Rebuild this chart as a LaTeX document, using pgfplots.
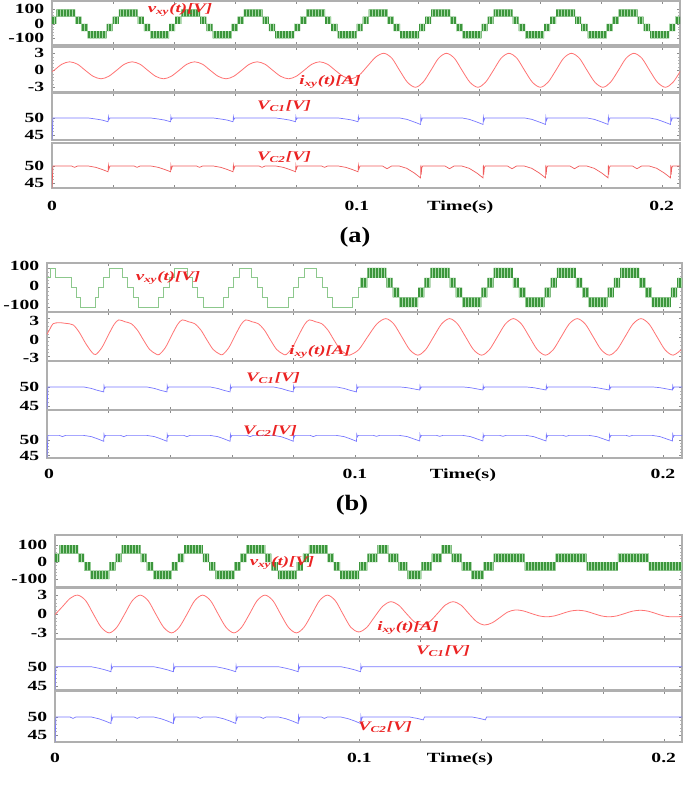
\documentclass[border=0pt]{standalone}
\usepackage{fontspec}
\setmainfont{Liberation Serif}
\usepackage{pgfplots}
\usepackage{pgfplotstable}
\pgfplotsset{compat=1.18}
\usetikzlibrary{patterns}

\definecolor{axgray}{RGB}{175,175,175}
\definecolor{vfill}{RGB}{60,150,60}
\definecolor{vline}{RGB}{165,215,165}
\definecolor{vthin}{RGB}{140,200,140}
\definecolor{icol}{RGB}{255,115,115}
\definecolor{bcol}{RGB}{120,120,255}
\definecolor{rcol}{RGB}{240,90,90}
\definecolor{lblred}{RGB}{235,35,35}

\newcommand{\ticfont}{\fontsize{14}{14}\selectfont\bfseries}
\newcommand{\lblfont}{\fontsize{13}{13}\selectfont\bfseries\itshape}

% PWM band of v_xy: value held from t on, band from lo to hi
\pgfplotstableread{
t lo hi
0 0 50
0.0014 50 100
0.0076 0 50
0.0096 -50 0
0.0117 -100 -50
0.0179 -50 0
0.0199 0 50
0.0219 50 100
0.0281 0 50
0.0301 -50 0
0.0322 -100 -50
0.0384 -50 0
0.0404 0 50
0.0424 50 100
0.0486 0 50
0.0506 -50 0
0.0527 -100 -50
0.0589 -50 0
0.0609 0 50
0.0629 50 100
0.0691 0 50
0.0711 -50 0
0.0732 -100 -50
0.0794 -50 0
0.0814 0 50
0.0834 50 100
0.0896 0 50
0.0916 -50 0
0.0937 -100 -50
0.0999 -50 0
0.1019 0 50
0.1039 50 100
0.1101 0 50
0.1121 -50 0
0.1142 -100 -50
0.1204 -50 0
0.1224 0 50
0.1244 50 100
0.1306 0 50
0.1326 -50 0
0.1347 -100 -50
0.1409 -50 0
0.1429 0 50
0.1449 50 100
0.1511 0 50
0.1531 -50 0
0.1552 -100 -50
0.1614 -50 0
0.1634 0 50
0.1654 50 100
0.1716 0 50
0.1736 -50 0
0.1757 -100 -50
0.1819 -50 0
0.1839 0 50
0.1859 50 100
0.1921 0 50
0.1941 -50 0
0.1962 -100 -50
0.2024 -50 0
0.2044 0 50
0.206 0 50
}\vxyA

\pgfplotstableread{
t v
0 50
0.001 100
0.0026 50
0.0079 0
0.0095 -50
0.0109 -100
0.0158 -50
0.0168 0
0.0184 50
0.0204 100
0.0244 50
0.0262 0
0.0279 -50
0.0296 -100
0.0362 -50
0.0379 0
0.0396 50
0.0414 100
0.0454 50
0.0472 0
0.0489 -50
0.0506 -100
0.0572 -50
0.0589 0
0.0606 50
0.0624 100
0.0664 50
0.0682 0
0.0699 -50
0.0716 -100
0.0782 -50
0.0799 0
0.0816 50
0.0834 100
0.0874 50
0.0892 0
0.0909 -50
0.0926 -100
0.0992 -50
0.1009 0
0.1016 0
}\vxyBthin

\pgfplotstableread{
t lo hi
0.1016 0 50
0.1039 50 100
0.1101 0 50
0.1121 -50 0
0.1142 -100 -50
0.1204 -50 0
0.1224 0 50
0.1244 50 100
0.1306 0 50
0.1326 -50 0
0.1347 -100 -50
0.1409 -50 0
0.1429 0 50
0.1449 50 100
0.1511 0 50
0.1531 -50 0
0.1552 -100 -50
0.1614 -50 0
0.1634 0 50
0.1654 50 100
0.1716 0 50
0.1736 -50 0
0.1757 -100 -50
0.1819 -50 0
0.1839 0 50
0.1859 50 100
0.1921 0 50
0.1941 -50 0
0.1962 -100 -50
0.2024 -50 0
0.2044 0 50
0.206 0 50
}\vxyB

\pgfplotstableread{
t lo hi
0 0 50
0.0014 50 100
0.0076 0 50
0.0096 -50 0
0.0117 -100 -50
0.0179 -50 0
0.0199 0 50
0.0219 50 100
0.0281 0 50
0.0301 -50 0
0.0322 -100 -50
0.0384 -50 0
0.0404 0 50
0.0424 50 100
0.0486 0 50
0.0506 -50 0
0.0527 -100 -50
0.0589 -50 0
0.0609 0 50
0.0629 50 100
0.0691 0 50
0.0711 -50 0
0.0732 -100 -50
0.0794 -50 0
0.0814 0 50
0.0834 50 100
0.0896 0 50
0.0916 -50 0
0.0937 -100 -50
0.0999 -50 0
0.1026 0 50
0.1059 50 100
0.1095 0 50
0.1128 -50 0
0.1158 -100 -50
0.1204 -50 0
0.1237 0 50
0.127 50 100
0.1303 0 50
0.1336 -50 0
0.1368 -100 -50
0.1408 -50 0
0.1441 0 50
0.1543 -50 0
0.1645 0 50
0.1747 -50 0
0.1849 0 50
0.1951 -50 0
0.206 -50 0
}\vxyC

\pgfplotsset{
  sub/.style={
    scale only axis, anchor=north west,
    xmin=0, xmax=0.206, clip mode=individual,
    axis line style={draw=axgray, line width=1.2pt},
    major tick style={draw=black!45, line width=0.4pt},
    minor tick style={draw=black!30, line width=0.3pt},
    major tick length=3pt, minor tick length=2pt,
    xtick={0,0.02,0.04,0.06,0.08,0.1,0.12,0.14,0.16,0.18,0.2},
    xticklabels={},
    minor y tick num=4,
    yticklabel style={font=\ticfont, xscale=1.4, xshift=-2pt},
    /pgf/number format/assume math mode=true,
  },
  bottom/.style={
    xticklabels={0,,,,,0.1,,,,,0.2},
    xticklabel style={font=\ticfont, xscale=1.4, anchor=base, yshift=#1},
  },
  bandlo/.style={const plot, draw=none, forget plot},
  band/.style={const plot, draw=none, fill=vfill,
    postaction={pattern=vertical lines, pattern color=vline}},
}
\tikzset{
  lbl/.style={font=\lblfont, text=lblred, xscale=1.45, inner sep=0pt},
  tlbl/.style={font=\ticfont, xscale=1.45, anchor=base},
}

\begin{document}
\begin{tikzpicture}
\path[use as bounding box] (0,0) rectangle (685pt,-806pt);

%%%%%%%%%%%%%%%%%%%% (a)
\begin{axis}[sub, stack plots=y, at={(52pt,-1pt)}, width=628pt, height=44pt,
  ymin=-146, ymax=157, ytick={-100,0,100}]
\addplot[bandlo] table[x=t,y=lo] {\vxyA};
\addplot[band] table[x=t,y expr=\thisrow{hi}-\thisrow{lo}] {\vxyA} \closedcycle;
\end{axis}
\node[lbl] at (180pt,-10pt) {v\textsubscript{xy}(t)[V]};

\begin{axis}[sub, at={(52pt,-47pt)}, width=628pt, height=45pt,
  ymin=-3.83, ymax=4.11, ytick={-3,0,3}]
\addplot[icol, line width=0.8pt, smooth] coordinates {
(0,-0.2) (0.0007,0) (0.0032,1.06) (0.0058,1.5) (0.0084,1.06) (0.0109,0) (0.0135,-1.06) (0.0161,-1.5) (0.0186,-1.06)
(0.0212,0) (0.0237,1.06) (0.0263,1.5) (0.0289,1.06) (0.0314,0) (0.034,-1.06) (0.0366,-1.5) (0.0391,-1.06)
(0.0417,0) (0.0442,1.06) (0.0468,1.5) (0.0494,1.06) (0.0519,0) (0.0545,-1.06) (0.0571,-1.5) (0.0596,-1.06)
(0.0622,0) (0.0647,1.06) (0.0673,1.5) (0.0699,1.06) (0.0724,0) (0.075,-1.06) (0.0776,-1.5) (0.0801,-1.06)
(0.0827,0) (0.0852,1.06) (0.0878,1.5) (0.0904,1.06) (0.0929,0) (0.0955,-1.06) (0.0981,-1.5)
(0.1008,-0.84) (0.1035,0.75) (0.1062,2.34) (0.1089,3)
(0.1115,2.12) (0.114,0) (0.1166,-2.12) (0.1192,-3) (0.1217,-2.12) (0.1243,0) (0.1268,2.12) (0.1294,3)
(0.132,2.12) (0.1345,0) (0.1371,-2.12) (0.1397,-3) (0.1422,-2.12) (0.1448,0) (0.1473,2.12) (0.1499,3)
(0.1525,2.12) (0.155,0) (0.1576,-2.12) (0.1602,-3) (0.1627,-2.12) (0.1653,0) (0.1678,2.12) (0.1704,3)
(0.173,2.12) (0.1755,0) (0.1781,-2.12) (0.1807,-3) (0.1832,-2.12) (0.1858,0) (0.1883,2.12) (0.1909,3)
(0.1935,2.12) (0.196,0) (0.1986,-2.12) (0.2012,-3) (0.2037,-2.12) (0.2063,0)
};
\end{axis}
\node[lbl] at (330pt,-82pt) {i\textsubscript{xy}(t)[A]};

\begin{axis}[sub, at={(52pt,-93pt)}, width=628pt, height=47pt,
  ymin=43.53, ymax=57.35, ytick={45,50}]
\addplot[bcol, line width=0.7pt] coordinates {
(0,43.6) (0.0003,50)
(0.0119,50) (0.0144,49.7) (0.0164,49.4) (0.0184,48.9) (0.0185,50.4) (0.0187,49.6) (0.019,50)
(0.0324,50) (0.0349,49.7) (0.0369,49.4) (0.0389,48.9) (0.039,50.4) (0.0392,49.6) (0.0395,50)
(0.0529,50) (0.0554,49.7) (0.0574,49.4) (0.0594,48.9) (0.0595,50.4) (0.0597,49.6) (0.06,50)
(0.0734,50) (0.0759,49.7) (0.0779,49.4) (0.0799,48.9) (0.08,50.4) (0.0802,49.6) (0.0805,50)
(0.0939,50) (0.0964,49.7) (0.0984,49.4) (0.1004,48.9) (0.1005,50.4) (0.1007,49.6) (0.101,50)
(0.1141,50) (0.1164,49.6) (0.1189,48.8) (0.1209,48.1) (0.121,50.3) (0.1212,49.3) (0.1215,50)
(0.1346,50) (0.1369,49.6) (0.1394,48.8) (0.1414,48.1) (0.1415,50.3) (0.1417,49.3) (0.142,50)
(0.1551,50) (0.1574,49.6) (0.1599,48.8) (0.1619,48.1) (0.162,50.3) (0.1622,49.3) (0.1625,50)
(0.1756,50) (0.1779,49.6) (0.1804,48.8) (0.1824,48.1) (0.1825,50.3) (0.1827,49.3) (0.183,50)
(0.1961,50) (0.1984,49.6) (0.2009,48.8) (0.2029,48.1) (0.203,50.3) (0.2032,49.3) (0.2035,50) (0.206,50)
};
\end{axis}
\node[lbl] at (284pt,-106pt) {V\textsubscript{C1}[V]};

\begin{axis}[sub, bottom=-22pt, at={(52pt,-143pt)}, width=628pt, height=45pt,
  ymin=43.53, ymax=56.76, ytick={45,50}]
\addplot[rcol, line width=0.7pt] coordinates {
(0,43.5) (0.0003,50) (0.0064,50) (0.0074,49.6) (0.0084,50)
(0.0119,50) (0.0144,49.6) (0.0164,49) (0.0184,48.3) (0.0185,50.2) (0.0187,49.2) (0.019,50) (0.0269,50) (0.0279,49.6) (0.0289,50)
(0.0324,50) (0.0349,49.6) (0.0369,49) (0.0389,48.3) (0.039,50.2) (0.0392,49.2) (0.0395,50) (0.0474,50) (0.0484,49.6) (0.0494,50)
(0.0529,50) (0.0554,49.6) (0.0574,49) (0.0594,48.3) (0.0595,50.2) (0.0597,49.2) (0.06,50) (0.0679,50) (0.0689,49.6) (0.0699,50)
(0.0734,50) (0.0759,49.6) (0.0779,49) (0.0799,48.3) (0.08,50.2) (0.0802,49.2) (0.0805,50) (0.0884,50) (0.0894,49.6) (0.0904,50)
(0.0939,50) (0.0964,49.6) (0.0984,49) (0.1004,48.3) (0.1005,50.2) (0.1007,49.2) (0.101,50) (0.1084,50) (0.1099,49.2) (0.1114,50)
(0.1139,50) (0.1164,49.3) (0.1189,47.9) (0.1209,46.5) (0.121,50.3) (0.1211,47.5) (0.1213,49.5) (0.1216,50) (0.1289,50) (0.1304,49.2) (0.1319,50)
(0.1344,50) (0.1369,49.3) (0.1394,47.9) (0.1414,46.5) (0.1415,50.3) (0.1416,47.5) (0.1418,49.5) (0.1421,50) (0.1494,50) (0.1509,49.2) (0.1524,50)
(0.1549,50) (0.1574,49.3) (0.1599,47.9) (0.1619,46.5) (0.162,50.3) (0.1621,47.5) (0.1623,49.5) (0.1626,50) (0.1699,50) (0.1714,49.2) (0.1729,50)
(0.1754,50) (0.1779,49.3) (0.1804,47.9) (0.1824,46.5) (0.1825,50.3) (0.1826,47.5) (0.1828,49.5) (0.1831,50) (0.1904,50) (0.1919,49.2) (0.1934,50)
(0.1959,50) (0.1984,49.3) (0.2009,47.9) (0.2029,46.5) (0.203,50.3) (0.2031,47.5) (0.2033,49.5) (0.2036,50) (0.206,50)
};
\node[tlbl, yshift=-22pt] at (axis description cs:0.65,0) {Time(s)};
\end{axis}
\node[lbl] at (284pt,-157pt) {V\textsubscript{C2}[V]};
\node[font=\fontsize{22}{22}\selectfont\bfseries, xscale=1.2] at (355pt,-237pt) {(a)};

%%%%%%%%%%%%%%%%%%%% (b)
\begin{axis}[sub, stack plots=y, at={(47pt,-263pt)}, width=635pt, height=49pt,
  ymin=-125.6, ymax=125.6, ytick={-100,0,100},
  yticklabel style={yshift=2pt}]
\addplot[bandlo] table[x=t,y=lo] {\vxyB};
\addplot[band] table[x=t,y expr=\thisrow{hi}-\thisrow{lo}] {\vxyB} \closedcycle;
\end{axis}
\begin{axis}[sub, hide axis, at={(47pt,-263pt)}, width=635pt, height=49pt,
  ymin=-125.6, ymax=125.6]
\addplot[const plot, vthin, line width=0.8pt] table[x=t,y=v] {\vxyBthin};
\end{axis}
\node[lbl] at (168pt,-278pt) {v\textsubscript{xy}(t)[V]};

\begin{axis}[sub, at={(47pt,-312pt)}, width=635pt, height=49pt,
  ymin=-3.73, ymax=4.05, ytick={-3,0,3},
  yticklabel style={yshift=-2pt}]
\addplot[icol, line width=0.8pt, smooth] coordinates {
(0,0.5) (0.001,1.4) (0.002,2.2) (0.004,2.35) (0.006,2.25) (0.0085,2.0) (0.0105,0.8) (0.0125,-0.9) (0.0145,-2.3)
(0.0158,-2.7) (0.0178,-1.6) (0.0198,0.3) (0.0218,2.1) (0.0233,2.8) (0.0253,2.5) (0.0273,2.2) (0.0293,1.2) (0.0313,-0.4) (0.0333,-1.9) (0.0353,-2.6)
(0.0364,-2.7) (0.0384,-1.6) (0.0404,0.3) (0.0424,2.1) (0.0439,2.8) (0.0459,2.5) (0.0479,2.2) (0.0499,1.2) (0.0519,-0.4) (0.0539,-1.9) (0.0559,-2.6)
(0.057,-2.7) (0.059,-1.6) (0.061,0.3) (0.063,2.1) (0.0645,2.8) (0.0665,2.5) (0.0685,2.2) (0.0705,1.2) (0.0725,-0.4) (0.0745,-1.9) (0.0765,-2.6)
(0.0776,-2.7) (0.0796,-1.6) (0.0816,0.3) (0.0836,2.1) (0.0851,2.8) (0.0871,2.5) (0.0891,2.2) (0.0911,1.2) (0.0931,-0.4) (0.0951,-1.9) (0.0971,-2.6)
(0.0982,-2.8) (0.1011,-1.95) (0.104,0.1) (0.107,2.15) (0.1099,3.0)
(0.1125,2.15) (0.1151,0.1) (0.1177,-1.95) (0.1203,-2.8) (0.1228,-1.95) (0.1254,0.1) (0.128,2.15) (0.1306,3.0)
(0.1332,2.15) (0.1358,0.1) (0.1384,-1.95) (0.141,-2.8) (0.1435,-1.95) (0.1461,0.1) (0.1487,2.15) (0.1513,3.0)
(0.1539,2.15) (0.1565,0.1) (0.1591,-1.95) (0.1617,-2.8) (0.1642,-1.95) (0.1668,0.1) (0.1694,2.15) (0.172,3.0)
(0.1746,2.15) (0.1772,0.1) (0.1798,-1.95) (0.1824,-2.8) (0.1849,-1.95) (0.1875,0.1) (0.1901,2.15) (0.1927,3.0)
(0.1953,2.15) (0.1979,0.1) (0.2005,-1.95) (0.2031,-2.8) (0.2057,-1.95)
};
\end{axis}
\node[lbl] at (320pt,-352pt) {i\textsubscript{xy}(t)[A]};

\begin{axis}[sub, at={(47pt,-361pt)}, width=635pt, height=49pt,
  ymin=43.95, ymax=56.8, ytick={45,50}]
\addplot[bcol, line width=0.7pt] coordinates {
(0,44) (0.0003,50)
(0.0119,50) (0.0144,49.6) (0.0164,49.1) (0.0184,48.7) (0.0185,50.3) (0.0187,49.6) (0.019,50)
(0.0324,50) (0.0349,49.6) (0.0369,49.1) (0.0389,48.7) (0.039,50.3) (0.0392,49.6) (0.0395,50)
(0.0529,50) (0.0554,49.6) (0.0574,49.1) (0.0594,48.7) (0.0595,50.3) (0.0597,49.6) (0.06,50)
(0.0734,50) (0.0759,49.6) (0.0779,49.1) (0.0799,48.7) (0.08,50.3) (0.0802,49.6) (0.0805,50)
(0.0939,50) (0.0964,49.6) (0.0984,49.1) (0.1004,48.7) (0.1005,50.3) (0.1007,49.6) (0.101,50)
(0.1144,50) (0.1169,49.8) (0.1189,49.5) (0.1209,49.2) (0.121,50.3) (0.1212,49.6) (0.1215,50)
(0.1349,50) (0.1374,49.8) (0.1394,49.5) (0.1414,49.2) (0.1415,50.3) (0.1417,49.6) (0.142,50)
(0.1554,50) (0.1579,49.8) (0.1599,49.5) (0.1619,49.2) (0.162,50.3) (0.1622,49.6) (0.1625,50)
(0.1759,50) (0.1784,49.8) (0.1804,49.5) (0.1824,49.2) (0.1825,50.3) (0.1827,49.6) (0.183,50)
(0.1964,50) (0.1989,49.8) (0.2009,49.5) (0.2029,49.2) (0.203,50.3) (0.2032,49.6) (0.2035,50) (0.206,50)
};
\end{axis}
\node[lbl] at (273pt,-378pt) {V\textsubscript{C1}[V]};

\begin{axis}[sub, at={(47pt,-410pt)}, width=635pt, height=48pt,
  ymin=44.2, ymax=59.7, ytick={45,50}]
\addplot[bcol, line width=0.7pt] coordinates {
(0,44.3) (0.0003,51.5) (0.004,51.5) (0.005,51.1) (0.006,51.5)
(0.0119,51.5) (0.0144,51.1) (0.0164,50.4) (0.0184,49.6) (0.0185,51.8) (0.0187,51) (0.019,51.5) (0.0239,51.5) (0.0249,51.1) (0.0259,51.5)
(0.0324,51.5) (0.0349,51.1) (0.0369,50.4) (0.0389,49.6) (0.039,51.8) (0.0392,51) (0.0395,51.5) (0.0444,51.5) (0.0454,51.1) (0.0464,51.5)
(0.0529,51.5) (0.0554,51.1) (0.0574,50.4) (0.0594,49.6) (0.0595,51.8) (0.0597,51) (0.06,51.5) (0.0649,51.5) (0.0659,51.1) (0.0669,51.5)
(0.0734,51.5) (0.0759,51.1) (0.0779,50.4) (0.0799,49.6) (0.08,51.8) (0.0802,51) (0.0805,51.5) (0.0854,51.5) (0.0864,51.1) (0.0874,51.5)
(0.0939,51.5) (0.0964,51.1) (0.0984,50.4) (0.1004,49.6) (0.1005,51.8) (0.1007,51) (0.101,51.5) (0.1059,51.5) (0.1069,51.2) (0.1079,51.5)
(0.1144,51.5) (0.1169,51.1) (0.1189,50.4) (0.1209,49.7) (0.121,51.8) (0.1212,51) (0.1215,51.5) (0.1264,51.5) (0.1274,51.2) (0.1284,51.5)
(0.1349,51.5) (0.1374,51.1) (0.1394,50.4) (0.1414,49.7) (0.1415,51.8) (0.1417,51) (0.142,51.5) (0.1469,51.5) (0.1479,51.2) (0.1489,51.5)
(0.1554,51.5) (0.1579,51.1) (0.1599,50.4) (0.1619,49.7) (0.162,51.8) (0.1622,51) (0.1625,51.5) (0.1674,51.5) (0.1684,51.2) (0.1694,51.5)
(0.1759,51.5) (0.1784,51.1) (0.1804,50.4) (0.1824,49.7) (0.1825,51.8) (0.1827,51) (0.183,51.5) (0.1879,51.5) (0.1889,51.2) (0.1899,51.5)
(0.1964,51.5) (0.1989,51.1) (0.2009,50.4) (0.2029,49.7) (0.203,51.8) (0.2032,51) (0.2035,51.5) (0.206,51.5)
};
\end{axis}
\node[lbl] at (270pt,-431pt) {V\textsubscript{C2}[V]};
% time axis labels of panel (b)
\node[tlbl, xscale=0.97] at (49pt,-478pt) {0};
\node[tlbl, xscale=0.97] at (355pt,-478pt) {0.1};
\node[tlbl] at (463pt,-478pt) {Time(s)};
\node[tlbl, xscale=0.97] at (663pt,-478pt) {0.2};
\node[font=\fontsize{22}{22}\selectfont\bfseries, xscale=1.2] at (352pt,-505pt) {(b)};

%%%%%%%%%%%%%%%%%%%% (c)
\begin{axis}[sub, stack plots=y, at={(55pt,-535pt)}, width=627pt, height=52pt,
  ymin=-147, ymax=158.8, ytick={-100,0,100}]
\addplot[bandlo] table[x=t,y=lo] {\vxyC};
\addplot[band] table[x=t,y expr=\thisrow{hi}-\thisrow{lo}] {\vxyC} \closedcycle;
\end{axis}
\node[lbl] at (282pt,-563pt) {v\textsubscript{xy}(t)[V]};

\begin{axis}[sub, at={(55pt,-588pt)}, width=627pt, height=51pt,
  ymin=-3.97, ymax=4.13, ytick={-3,0,3}]
\addplot[icol, line width=0.8pt, smooth] coordinates {
(0,-0.1) (0.0025,1.2) (0.005,2.5) (0.0075,3)
(0.0101,2.12) (0.0126,0) (0.0152,-2.12) (0.0178,-3) (0.0203,-2.12) (0.0229,0) (0.0254,2.12) (0.028,3)
(0.0306,2.12) (0.0331,0) (0.0357,-2.12) (0.0383,-3) (0.0408,-2.12) (0.0434,0) (0.0459,2.12) (0.0485,3)
(0.0511,2.12) (0.0536,0) (0.0562,-2.12) (0.0588,-3) (0.0613,-2.12) (0.0639,0) (0.0664,2.12) (0.069,3)
(0.0716,2.12) (0.0741,0) (0.0767,-2.12) (0.0793,-3) (0.0818,-2.12) (0.0844,0) (0.0869,2.12) (0.0895,3)
(0.0921,2.12) (0.0946,0) (0.0972,-2.12) (0.0998,-2.85)
(0.1024,-2.15) (0.105,-0.45) (0.1077,1.25) (0.1103,1.95)
(0.1129,1.41) (0.1154,0.1) (0.118,-1.21) (0.1205,-1.75)
(0.1231,-1.21) (0.1257,0.1) (0.1282,1.41) (0.1308,1.95)
(0.1334,1.41) (0.1359,0.1) (0.1385,-1.21) (0.141,-1.75)
(0.1436,-1.4) (0.1462,-0.55) (0.1487,0.3) (0.1513,0.65)
(0.1539,0.49) (0.1564,0.1) (0.159,-0.29) (0.1615,-0.45)
(0.1641,-0.3) (0.1667,0.08) (0.1692,0.45) (0.1718,0.6)
(0.1744,0.45) (0.1769,0.08) (0.1795,-0.3) (0.182,-0.45)
(0.1846,-0.3) (0.1872,0.08) (0.1897,0.45) (0.1923,0.6)
(0.1949,0.45) (0.1974,0.08) (0.2,-0.3) (0.2025,-0.45) (0.206,-0.4)
};
\end{axis}
\node[lbl] at (408pt,-628pt) {i\textsubscript{xy}(t)[A]};

\begin{axis}[sub, at={(55pt,-639pt)}, width=627pt, height=51pt,
  ymin=43.96, ymax=57.18, ytick={45,50}]
\addplot[bcol, line width=0.7pt] coordinates {
(0,44) (0.0003,50)
(0.0119,50) (0.0144,49.6) (0.0164,49.2) (0.0184,48.7) (0.0185,50.3) (0.0187,49.5) (0.019,50)
(0.0324,50) (0.0349,49.6) (0.0369,49.2) (0.0389,48.7) (0.039,50.3) (0.0392,49.5) (0.0395,50)
(0.0529,50) (0.0554,49.6) (0.0574,49.2) (0.0594,48.7) (0.0595,50.3) (0.0597,49.5) (0.06,50)
(0.0734,50) (0.0759,49.6) (0.0779,49.2) (0.0799,48.7) (0.08,50.3) (0.0802,49.5) (0.0805,50)
(0.0939,50) (0.0964,49.6) (0.0984,49.2) (0.1004,48.7) (0.1005,50.3) (0.1007,49.5) (0.101,50) (0.206,50)
};
\end{axis}
\node[lbl] at (443pt,-651pt) {V\textsubscript{C1}[V]};

\begin{axis}[sub, bottom=-20pt, at={(55pt,-691pt)}, width=627pt, height=51pt,
  ymin=43.06, ymax=57.2, ytick={45,50}]
\addplot[bcol, line width=0.7pt] coordinates {
(0,43.1) (0.0003,50) (0.0049,50) (0.0059,49.6) (0.0069,50)
(0.0119,50) (0.0144,49.5) (0.0164,48.9) (0.0184,48.2) (0.0185,50.2) (0.0187,49.2) (0.019,50) (0.026,50) (0.027,49.6) (0.028,50)
(0.0324,50) (0.0349,49.5) (0.0369,48.9) (0.0389,48.2) (0.039,50.2) (0.0392,49.2) (0.0395,50) (0.0467,50) (0.0477,49.6) (0.0487,50)
(0.0529,50) (0.0554,49.5) (0.0574,48.9) (0.0594,48.2) (0.0595,50.2) (0.0597,49.2) (0.06,50) (0.0674,50) (0.0684,49.6) (0.0694,50)
(0.0734,50) (0.0759,49.5) (0.0779,48.9) (0.0799,48.2) (0.08,50.2) (0.0802,49.2) (0.0805,50) (0.0875,50) (0.0885,49.6) (0.0895,50)
(0.0939,50) (0.0964,49.5) (0.0984,48.9) (0.1004,48.2) (0.1005,50.2) (0.1007,49.2) (0.101,50)
(0.1165,50) (0.119,49.6) (0.121,49.2) (0.1214,50)
(0.137,50) (0.1395,49.6) (0.1414,49.2) (0.1418,50) (0.206,50)
};
\node[tlbl, yshift=-20pt] at (axis description cs:0.646,0) {Time(s)};
\end{axis}
\node[lbl] at (385pt,-727pt) {V\textsubscript{C2}[V]};

\end{tikzpicture}
\end{document}
